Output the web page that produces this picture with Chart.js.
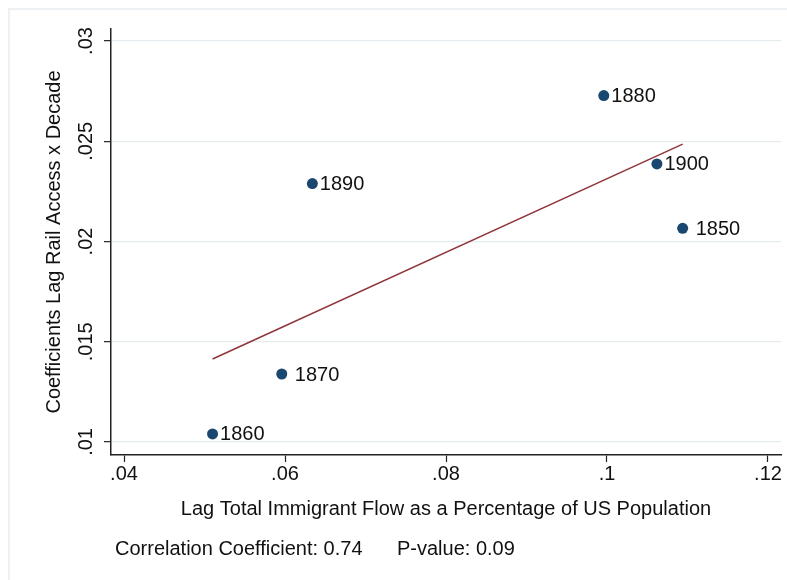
<!DOCTYPE html>
<html lang="en">
<head>
<meta charset="UTF-8" />
<title>Rail access coefficients vs immigrant flow</title>
<script src="https://cdn.jsdelivr.net/npm/chart.js"></script>
<style>
html, body {
  margin: 0;
  width: 787px;
  height: 580px;
  overflow: hidden;
  background: #ffffff;
  font-family: 'Liberation Sans', Arial, sans-serif;
}
/* marco claro del área del gráfico */
.marco {
  position: absolute;
  left: 8px;
  top: 8px;
  width: 820px;
  height: 620px;
  border: 2px solid #edf1f3;
}
#grafico {
  position: absolute;
  left: 0;
  top: 0;
}
</style>
</head>
<body>
<div class="marco"></div>
<canvas id="grafico" width="787" height="580"></canvas>

<script>
// datos
const decades = [' 1850', '1860', ' 1870', '1880', '1890', '1900'];
const immigrantFlow = [0.1094, 0.0510, 0.0596, 0.0996, 0.0634, 0.1062];
const railCoef = [0.02066, 0.0104, 0.01339, 0.02728, 0.02289, 0.02387];

// recta ajustada (extremos)
const fitX = [0.0510, 0.1094];
const fitY = [0.01414, 0.02486];

const xTicks = [0.04, 0.06, 0.08, 0.10, 0.12];
const xTickLabels = ['.04', '.06', '.08', '.1', '.12'];
const yTicks = [0.01, 0.015, 0.02, 0.025, 0.03];
const yTickLabels = ['.01', '.015', '.02', '.025', '.03'];

const corrNote = 'Correlation Coefficient: 0.74';
const pNote = 'P-value: 0.09';

const FONT = "'Liberation Sans', Arial, sans-serif";
const FS = 20;
const NAVY = '#1a476f';
const MAROON = '#90353b';
const AXIS = '#222222';

// etiquetas de los puntos, ticks verticales rotados y nota inferior
const textos = {
  id: 'textos',
  afterDatasetsDraw(chart) {
    const { ctx } = chart;
    const meta = chart.getDatasetMeta(1);
    ctx.save();
    ctx.font = FS + 'px ' + FONT;
    ctx.fillStyle = '#111';
    ctx.textBaseline = 'middle';
    ctx.textAlign = 'left';
    meta.data.forEach((p, i) => {
      ctx.fillText(decades[i], p.x + 7.5, p.y + 1);
    });
    ctx.restore();
  },
  afterDraw(chart) {
    const { ctx, scales: { y } } = chart;
    ctx.save();
    ctx.font = FS + 'px ' + FONT;
    ctx.fillStyle = '#111';
    ctx.textBaseline = 'middle';
    ctx.textAlign = 'center';
    yTicks.forEach((v, i) => {
      const py = y.getPixelForValue(v);
      ctx.save();
      ctx.translate(86, py);
      ctx.rotate(-Math.PI / 2);
      ctx.fillText(yTickLabels[i], 0, 0);
      ctx.restore();
    });
    ctx.textAlign = 'left';
    ctx.fillText(corrNote, 115, 549);
    ctx.fillText(pNote, 397, 549);
    ctx.restore();
  }
};

const ctx = document.getElementById('grafico').getContext('2d');

const chart = new Chart(ctx, {
  type: 'scatter',
  data: {
    datasets: [
      {
        type: 'line',
        label: 'Fitted values',
        data: fitX.map((x, i) => ({ x: x, y: fitY[i] })),
        borderColor: MAROON,
        borderWidth: 1.5,
        pointRadius: 0,
        fill: false,
        tension: 0
      },
      {
        label: 'Coefficients',
        data: immigrantFlow.map((x, i) => ({ x: x, y: railCoef[i] })),
        backgroundColor: NAVY,
        borderColor: NAVY,
        pointRadius: 5.5,
        pointBorderWidth: 0
      }
    ]
  },
  options: {
    responsive: false,
    animation: false,
    devicePixelRatio: 1,
    layout: { padding: { top: 29, right: 6, left: 0, bottom: 0 } },
    plugins: {
      legend: { display: false },
      tooltip: { enabled: false }
    },
    scales: {
      x: {
        type: 'linear',
        min: 0.038385,
        max: 0.121615,
        afterBuildTicks: (s) => { s.ticks = xTicks.map(v => ({ value: v })); },
        afterFit: (s) => { s.height = 125; },
        ticks: {
          color: '#111',
          font: { family: FONT, size: FS },
          padding: 0,
          maxRotation: 0,
          callback: (v) => xTickLabels[xTicks.findIndex(t => Math.abs(t - v) < 1e-9)]
        },
        grid: {
          drawOnChartArea: false,
          drawTicks: true,
          tickLength: 7,
          tickColor: AXIS,
          tickWidth: 1.2
        },
        border: { display: true, color: AXIS, width: 1.5 },
        title: {
          display: true,
          text: 'Lag Total Immigrant Flow as a Percentage of US Population',
          color: '#111',
          font: { family: FONT, size: FS },
          padding: { top: 0, bottom: 58.5 }
        }
      },
      y: {
        type: 'linear',
        min: 0.00935,
        max: 0.0306,
        afterBuildTicks: (s) => { s.ticks = yTicks.map(v => ({ value: v })); },
        afterFit: (s) => { s.width = 111; },
        ticks: { display: false },
        grid: {
          color: '#e5ecf0',
          lineWidth: 1.3,
          drawTicks: true,
          tickLength: 7,
          tickColor: AXIS,
          tickWidth: 1.2
        },
        border: { display: true, color: AXIS, width: 1.5 },
        title: {
          display: true,
          text: 'Coefficients Lag Rail Access x Decade',
          color: '#111',
          font: { family: FONT, size: FS },
          padding: { top: 42, bottom: 0 }
        }
      }
    }
  },
  plugins: [textos]
});
</script>
</body>
</html>
